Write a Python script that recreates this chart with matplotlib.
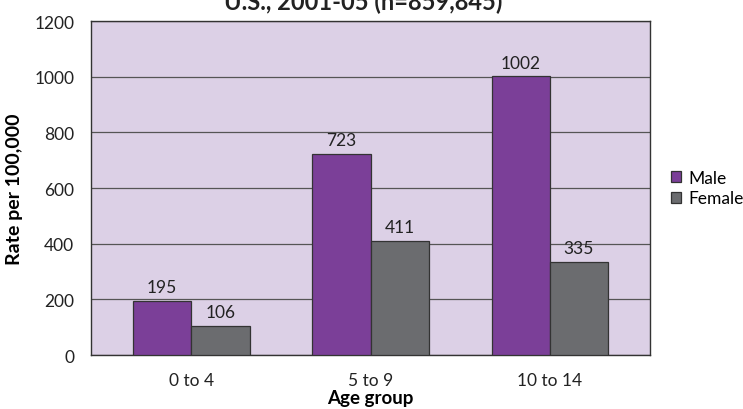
import numpy as np
import matplotlib.pyplot as plt

plt.rcParams['font.family'] = ['Lato', 'DejaVu Sans']

age_groups = ['0 to 4', '5 to 9', '10 to 14']
male = [195, 723, 1002]
female = [106, 411, 335]

purple = '#7b3f98'
grey = '#6b6c6f'
bg = '#dcd0e6'

fig = plt.figure(figsize=(7.43, 4.10), dpi=100)
ax = fig.add_axes([0.1225, 0.1317, 0.7525, 0.8146])
ax.set_facecolor(bg)

x = np.arange(len(age_groups))
w = 0.325
b1 = ax.bar(x - w / 2, male, w, color=purple, edgecolor='#333333', linewidth=0.9,
            label='Male', zorder=3)
b2 = ax.bar(x + w / 2, female, w, color=grey, edgecolor='#333333', linewidth=0.9,
            label='Female', zorder=3)

for bars, vals in [(b1, male), (b2, female)]:
    for r, v in zip(bars, vals):
        ax.text(r.get_x() + r.get_width() / 2, v + 20, str(v), ha='center', va='bottom',
                fontsize=12.5, color='#222222')

ax.set_xlim(-0.56, 2.56)
ax.set_ylim(0, 1200)
ax.set_yticks(range(0, 1201, 200))
ax.set_xticks(x)
ax.set_xticklabels(age_groups)
ax.tick_params(axis='both', length=0, labelsize=12.5, colors='#222222')
ax.tick_params(axis='y', pad=12)
ax.tick_params(axis='x', pad=12)
ax.grid(axis='y', color='#555555', linewidth=0.9, zorder=1)
for s in ax.spines.values():
    s.set_color('#333333')
    s.set_linewidth(1.0)

ax.set_xlabel('Age group', fontsize=13.5, fontweight='bold', labelpad=1)
ax.set_ylabel('Rate per 100,000', fontsize=14, fontweight='bold', labelpad=8)

fig.text(363 / 743, 1 - 10 / 410, 'U.S., 2001-05 (n=859,845)', ha='center', va='baseline',
         fontsize=17, fontweight='bold', color='#222222')

ax.legend(loc='center left', bbox_to_anchor=(1.0, 0.5), frameon=False, fontsize=12.5,
          handlelength=0.6, handleheight=0.6, handletextpad=0.4, labelspacing=0.25,
          borderaxespad=0.8)

fig.savefig('out.png', dpi=100)
